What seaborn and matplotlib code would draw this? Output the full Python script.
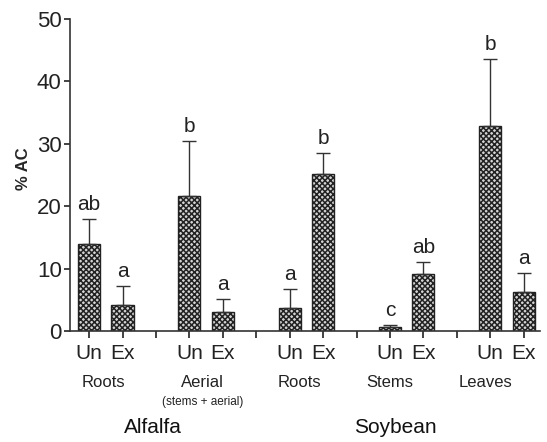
import numpy as np
import pandas as pd
import seaborn as sns
import matplotlib.pyplot as plt

# bar data (Un / Ex pairs per tissue)
positions = [0, 1, 3, 4, 6, 7, 9, 10, 12, 13]
treatments = ['Un', 'Ex', 'Un', 'Ex', 'Un', 'Ex', 'Un', 'Ex', 'Un', 'Ex']
pct_ac = [14.0, 4.2, 21.6, 3.1, 3.7, 25.1, 0.6, 9.2, 32.8, 6.3]
err_top = [18.0, 7.2, 30.5, 5.1, 6.7, 28.5, 0.9, 11.0, 43.6, 9.3]
letters = ['ab', 'a', 'b', 'a', 'a', 'b', 'c', 'ab', 'b', 'a']

tissues = ['Roots', 'Aerial', 'Roots', 'Stems', 'Leaves']
species = ['Alfalfa', 'Soybean']

# where the text labels sit along x (as placed in the original)
tissue_x = [0.43, 3.4, 6.28, 9.0, 11.86]
species_x = [1.9, 9.15]

df = pd.DataFrame({'pos': positions, 'val': pct_ac})

sns.set_style('ticks')
plt.rcParams['font.family'] = ['Liberation Sans', 'DejaVu Sans']
plt.rcParams['hatch.linewidth'] = 1.1
plt.rcParams['hatch.color'] = '#444444'

fig = plt.figure(figsize=(5.47, 4.42), dpi=100)
ax = fig.add_axes([0.128, 0.251, 0.86, 0.706])

sns.barplot(data=df, x='pos', y='val', native_scale=True, width=0.66,
            color='#cccccc', edgecolor='#222222', linewidth=1.0, ax=ax)
for p in ax.patches:
    p.set_hatch('xxxxxx')
    p.set_facecolor('#d4d4d4')

yerr = np.array(err_top) - np.array(pct_ac)
ax.errorbar(positions, pct_ac, yerr=[np.zeros(len(yerr)), yerr], fmt='none',
            ecolor='#333333', elinewidth=1.0, capsize=5, capthick=1.0)

for x, top, lab in zip(positions, err_top, letters):
    ax.text(x, top + 0.8, lab, ha='center', va='bottom', fontsize=15, color='#222222')

ax.set_xlim(-0.57, 13.5)
ax.set_ylim(0, 50)
ax.set_yticks([0, 10, 20, 30, 40, 50])
ax.tick_params(axis='y', labelsize=16, length=4, width=1.2, colors='#222222', pad=2)
ax.set_xticks(range(14))
all_labels = [''] * 14
for x, t in zip(positions, treatments):
    all_labels[x] = t
ax.set_xticklabels(all_labels, fontsize=15)
ax.tick_params(axis='x', length=5, width=1.2, pad=4, colors='#222222')
ax.set_ylabel('% AC', fontsize=12, fontweight='bold')
ax.yaxis.set_label_coords(-0.083, 0.52)
ax.set_xlabel('')
for s in ['left', 'bottom']:
    ax.spines[s].set_linewidth(1.2)
    ax.spines[s].set_color('#333333')
sns.despine(ax=ax)

# tissue labels under the pairs
xt = ax.get_xaxis_transform()
for xc, t in zip(tissue_x, tissues):
    ax.text(xc, -0.164, t, transform=xt, ha='center', va='center',
            fontsize=12, color='#222222')
ax.text(tissue_x[1], -0.228, '(stems + aerial)', transform=xt,
        ha='center', va='center', fontsize=8.5, color='#222222')
ax.text(species_x[0], -0.308, species[0], transform=xt, ha='center',
        va='center', fontsize=15, color='#111111')
ax.text(species_x[1], -0.31, species[1], transform=xt, ha='center',
        va='center', fontsize=15, color='#111111')

fig.savefig('out.png', dpi=100)
